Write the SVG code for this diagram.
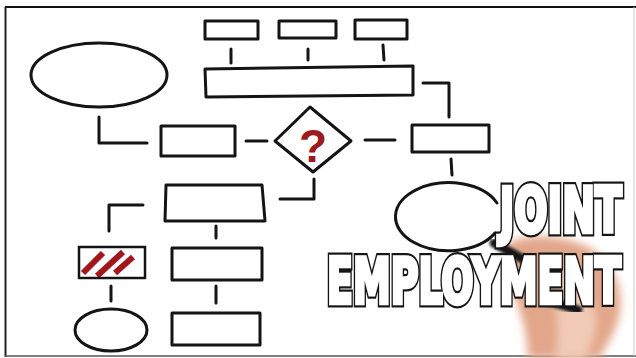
<svg xmlns="http://www.w3.org/2000/svg" width="636" height="358" viewBox="0 0 636 358">
<style>
.s{fill:none;stroke:#141414;stroke-width:3;stroke-linecap:round;stroke-linejoin:round}
.b{fill:#fff;stroke:#141414;stroke-width:3;stroke-linejoin:round}
.c{fill:none;stroke:#141414;stroke-width:3;stroke-linecap:round;stroke-linejoin:round}
.t{font-family:"DejaVu Sans","Liberation Sans",sans-serif;font-weight:bold;stroke-linejoin:miter}
</style>
<defs>
<filter id="blur" x="-30%" y="-30%" width="160%" height="160%"><feGaussianBlur stdDeviation="4"/></filter>
<filter id="blur2" x="-20%" y="-20%" width="140%" height="140%"><feGaussianBlur stdDeviation="1.5"/></filter>
<clipPath id="hclip"><rect x="79" y="247" width="66" height="31"/></clipPath>
<g id="titletext">
<text class="t" transform="scale(0.6,1)" x="833" y="232" font-size="62" textLength="203" lengthAdjust="spacingAndGlyphs">JOINT</text>
<text class="t" transform="scale(0.6,1)" x="545" y="303" font-size="63" textLength="490" lengthAdjust="spacingAndGlyphs">EMPLOYMENT</text>
</g>
</defs>
<rect width="636" height="358" fill="#fff"/>
<g id="frame">
<line x1="5" y1="7" x2="636" y2="7" stroke="#111" stroke-width="2.2"/>
<line x1="5.5" y1="7" x2="5.5" y2="357" stroke="#222" stroke-width="2"/>
<line x1="5" y1="356" x2="636" y2="356" stroke="#555" stroke-width="1.5"/>
<line x1="634" y1="7" x2="634" y2="356" stroke="#ccc" stroke-width="1"/>
</g>
<g id="connectors">
<path class="c" d="M231,49 L231,63"/>
<path class="c" d="M308,49 L308,60"/>
<path class="c" d="M383,45 L384,60"/>
<path class="c" d="M423,83 L449,83 L449,117"/>
<path class="c" d="M99,117 L99,143 L147,143"/>
<path class="c" d="M246,141 L267,141"/>
<path class="c" d="M365,140 L395,140"/>
<path class="c" d="M451,159 L452,175"/>
<path class="c" d="M314,179 L314,199 L280,199"/>
<path class="c" d="M143,205 L109,205 L109,231"/>
<path class="c" d="M216,226 L216,238"/>
<path class="c" d="M111,286 L111,301"/>
<path class="c" d="M216,286 L216,303"/>
</g>
<g id="n-ellipse-top-left"><ellipse class="b" cx="99" cy="75" rx="68" ry="32"/></g>
<g id="n-top1"><rect class="b" x="205" y="21" width="53" height="18"/></g>
<g id="n-top2"><rect class="b" x="279" y="21" width="57" height="17"/></g>
<g id="n-top3"><rect class="b" x="355" y="20" width="52" height="19"/></g>
<g id="n-big"><polygon class="b" points="205,69 413,66 413,95 206,97"/></g>
<g id="n-left-mid"><rect class="b" x="161" y="126" width="74" height="30"/></g>
<g id="n-diamond">
<polygon class="b" points="275,141 310,107 351,141 313,172"/>
<text x="313" y="162" text-anchor="middle" font-family="Liberation Sans, Arial, sans-serif" font-weight="bold" font-size="46" fill="#9b1a1e">?</text>
</g>
<g id="n-right-mid"><rect class="b" x="412" y="125" width="77" height="27"/></g>
<g id="n-trap"><polygon class="b" points="166,185 262,185 265,221 165,221"/></g>
<g id="n-hatched">
<rect x="79" y="247" width="66" height="31" fill="#fff"/>
<g clip-path="url(#hclip)" stroke="#a3161c" stroke-width="6" stroke-linecap="butt">
<line x1="83" y1="273" x2="103" y2="253"/>
<line x1="97" y1="276" x2="123" y2="252"/>
<line x1="115" y1="273" x2="133" y2="257"/>
</g>
<rect x="79" y="247" width="66" height="31" fill="none" stroke="#141414" stroke-width="2.5"/>
</g>
<g id="n-mid2"><rect class="b" x="172" y="248" width="90" height="32"/></g>
<g id="n-small-ellipse"><ellipse class="b" cx="111" cy="330" rx="36" ry="21"/></g>
<g id="n-bottom"><rect class="b" x="172" y="313" width="88" height="32"/></g>
<g id="n-big-ellipse"><path class="s" d="M497,203 A53,34 0 1 0 495,233 L499,242"/></g>
<g id="hand">
<path d="M505,247 C518,233 558,233 590,248 C612,262 623,285 620,310 C618,330 606,345 600,358 L527,358 C529,340 523,320 516,300 C509,282 500,262 505,247 Z" fill="#e2a68a" filter="url(#blur)"/>
<path d="M545,262 C570,270 590,290 596,315 C598,332 590,348 585,358 L555,358 C560,335 558,300 545,262 Z" fill="#f1cbb6" filter="url(#blur)"/>
<path d="M494,243 L528,262" fill="none" stroke="#161616" stroke-width="9" stroke-linecap="round" filter="url(#blur2)"/>
<path d="M545,300 L578,310" fill="none" stroke="#161616" stroke-width="9" stroke-linecap="round" filter="url(#blur2)"/>
</g>
<g id="title">
<use href="#titletext" fill="#fff" stroke="#151515" stroke-width="9"/>
<use href="#titletext" fill="#fff" stroke="#fff" stroke-width="4.5"/>
</g>
</svg>
